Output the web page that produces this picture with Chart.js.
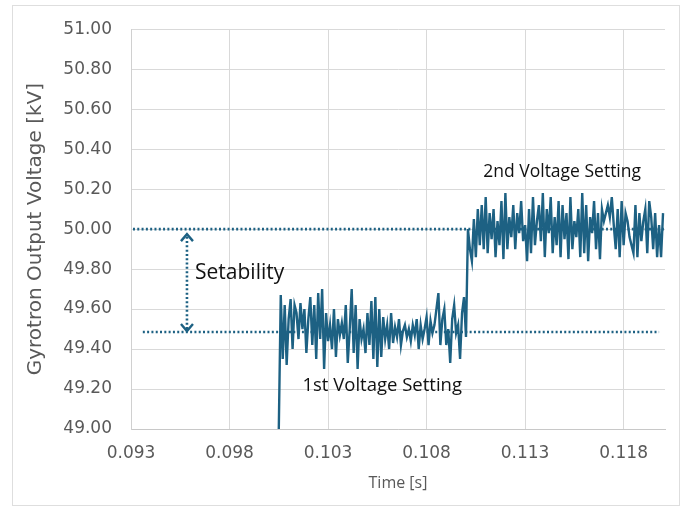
<!DOCTYPE html>
<html>
<head>
<meta charset="utf-8">
<script src="https://cdn.jsdelivr.net/npm/chart.js@4.4.1/dist/chart.umd.min.js"></script>
<style>
  html, body { margin: 0; padding: 0; background: #fff; }
  #wrap { width: 685px; height: 511px; }
</style>
</head>
<body>
<div id="wrap"><canvas id="voltChart" width="685" height="511"></canvas></div>
<script>
// sampled output voltage, one value every sampleStep seconds from sampleStart
const sampleStart = 0.1005;
const sampleStep = 0.0001;
const voltage = [
  49.00,
  // 1st setting
  49.67, 49.35, 49.62, 49.32, 49.55, 49.65, 49.40, 49.62, 49.58, 49.45,
  49.63, 49.50, 49.60, 49.38, 49.55, 49.66, 49.42, 49.62, 49.35, 49.68,
  49.45, 49.70, 49.30, 49.58, 49.44, 49.52, 49.40, 49.60, 49.36, 49.55,
  49.47, 49.53, 49.45, 49.62, 49.33, 49.50, 49.70, 49.38, 49.62, 49.30,
  49.55, 49.45, 49.50, 49.38, 49.58, 49.42, 49.64, 49.35, 49.66, 49.31,
  49.60, 49.36, 49.56, 49.45, 49.52, 49.40, 49.58, 49.43, 49.51, 49.46,
  49.55, 49.42, 49.49, 49.52, 49.46, 49.50, 49.44, 49.52, 49.47, 49.55,
  49.40, 49.52, 49.45, 49.50, 49.56, 49.42, 49.54, 49.48, 49.52, 49.60,
  49.68, 49.42, 49.55, 49.60, 49.42, 49.50, 49.33, 49.55, 49.62, 49.48,
  49.52, 49.35, 49.58, 49.66, 49.46,
  // 2nd setting
  50.00, 49.90, 49.84, 50.05, 49.86, 50.10, 49.92, 50.12, 49.90, 50.16,
  49.88, 50.08, 49.95, 50.10, 49.86, 50.04, 49.92, 50.14, 49.85, 50.18,
  49.90, 50.06, 49.96, 50.12, 49.90, 50.08, 49.98, 50.14, 49.94, 50.02,
  49.84, 50.10, 49.88, 50.16, 49.92, 50.04, 50.12, 49.94, 50.18, 49.86,
  50.10, 49.98, 50.16, 49.88, 50.06, 49.92, 50.14, 49.86, 50.12, 49.95,
  50.08, 49.85, 50.16, 49.90, 50.04, 49.96, 50.10, 49.86, 50.18, 49.88,
  50.12, 49.84, 50.06, 49.98, 50.14, 49.90, 50.08, 49.85, 50.10, 50.04,
  50.08, 50.12, 50.06, 50.16, 50.02, 49.90, 50.10, 49.86, 50.14, 49.92,
  50.08, 50.04, 49.96, 49.92, 49.88, 50.12, 49.86, 50.08, 49.94, 50.04,
  50.10, 49.88, 50.14, 50.06, 49.90, 50.08, 49.86, 50.02, 49.86, 50.08
];

const xTicks = [0.093, 0.098, 0.103, 0.108, 0.113, 0.118];
const xMin = 0.093, xMax = 0.1201;
const yMin = 49, yMax = 51, yStep = 0.2;

// the two voltage setpoints (dotted reference lines)
const firstSetting = 49.485;
const secondSetting = 50.00;
const firstSpan = [0.0936, 0.1198];
const secondSpan = [0.0931, 0.1201];

// setability arrow
const arrowTime = 0.09584;
const arrowSpan = [49.49, 49.975];

const notes = [
  { text: '2nd Voltage Setting', x: 0.11488, y: 50.287, size: 17.5, align: 'center' },
  { text: '1st Voltage Setting', x: 0.10575, y: 49.218, size: 18.5, align: 'center' },
  { text: 'Setability', x: 0.09625, y: 49.782, size: 21, align: 'left' }
];

const lineColor = '#1d6183';

const signal = voltage.map((v, i) => ({ x: sampleStart + i * sampleStep, y: v }));

const notesPlugin = {
  id: 'notes',
  beforeDraw(c) {
    const ctx = c.ctx;
    ctx.save();
    ctx.fillStyle = '#fff';
    ctx.fillRect(0, 0, c.width, c.height);
    ctx.strokeStyle = '#dedede';
    ctx.lineWidth = 1;
    ctx.strokeRect(12.5, 5.5, 667, 500);
    ctx.restore();
  },
  afterDatasetsDraw(c) {
    const ctx = c.ctx, xs = c.scales.x, ys = c.scales.y;
    ctx.save();
    // arrow heads
    const ax = xs.getPixelForValue(arrowTime);
    const top = ys.getPixelForValue(arrowSpan[1]);
    const bot = ys.getPixelForValue(arrowSpan[0]);
    ctx.strokeStyle = lineColor;
    ctx.lineWidth = 2.4;
    ctx.beginPath();
    ctx.moveTo(ax - 6, top + 7); ctx.lineTo(ax, top); ctx.lineTo(ax + 6, top + 7);
    ctx.moveTo(ax - 6, bot - 7); ctx.lineTo(ax, bot); ctx.lineTo(ax + 6, bot - 7);
    ctx.stroke();
    // text notes
    ctx.fillStyle = '#111';
    ctx.textBaseline = 'middle';
    notes.forEach(n => {
      ctx.font = '500 ' + n.size + 'px "Open Sans"';
      ctx.textAlign = n.align;
      ctx.fillText(n.text, xs.getPixelForValue(n.x), ys.getPixelForValue(n.y));
    });
    ctx.restore();
  }
};

const dotted = (span, level) => ({
  data: [{ x: span[0], y: level }, { x: span[1], y: level }],
  borderColor: lineColor,
  borderWidth: 2.6,
  borderDash: [2, 2.3],
  pointRadius: 0
});

new Chart(document.getElementById('voltChart'), {
  type: 'line',
  data: {
    datasets: [
      { data: signal, borderColor: lineColor, borderWidth: 2.4, pointRadius: 0, tension: 0 },
      dotted(secondSpan, secondSetting),
      dotted(firstSpan, firstSetting),
      {
        data: [{ x: arrowTime, y: arrowSpan[0] + 0.01 }, { x: arrowTime, y: arrowSpan[1] - 0.01 }],
        borderColor: lineColor, borderWidth: 2.6, borderDash: [2, 2.3], pointRadius: 0
      }
    ]
  },
  options: {
    responsive: false,
    animation: false,
    layout: { padding: { left: 0, right: 20, top: 25, bottom: 0 } },
    plugins: { legend: { display: false }, tooltip: { enabled: false } },
    scales: {
      x: {
        type: 'linear',
        min: xMin, max: xMax,
        afterBuildTicks: s => { s.ticks = xTicks.map(v => ({ value: v })); },
        afterFit: s => { s.height = 82; },
        grid: { color: '#d9d9d9', drawTicks: false },
        border: { color: '#c8c8c8' },
        ticks: {
          padding: 14,
          color: '#595959',
          font: { family: 'DejaVu Sans', size: 17 },
          callback: v => v.toFixed(3)
        },
        title: {
          display: true, text: 'Time [s]', color: '#595959',
          font: { family: 'Open Sans', size: 16 },
          padding: { top: 0, bottom: 18 }
        }
      },
      y: {
        min: yMin, max: yMax,
        afterFit: s => { s.width = 131; },
        grid: { color: '#d9d9d9', drawTicks: false },
        border: { color: '#d0d0d0' },
        ticks: {
          stepSize: yStep,
          padding: 19,
          color: '#595959',
          font: { family: 'DejaVu Sans', size: 17 },
          callback: v => v.toFixed(2)
        },
        title: {
          display: true, text: 'Gyrotron Output Voltage [kV]', color: '#595959',
          font: { family: 'DejaVu Sans', size: 20 },
          padding: { top: 24, bottom: 0 }
        }
      }
    }
  },
  plugins: [notesPlugin]
});
</script>
</body>
</html>
